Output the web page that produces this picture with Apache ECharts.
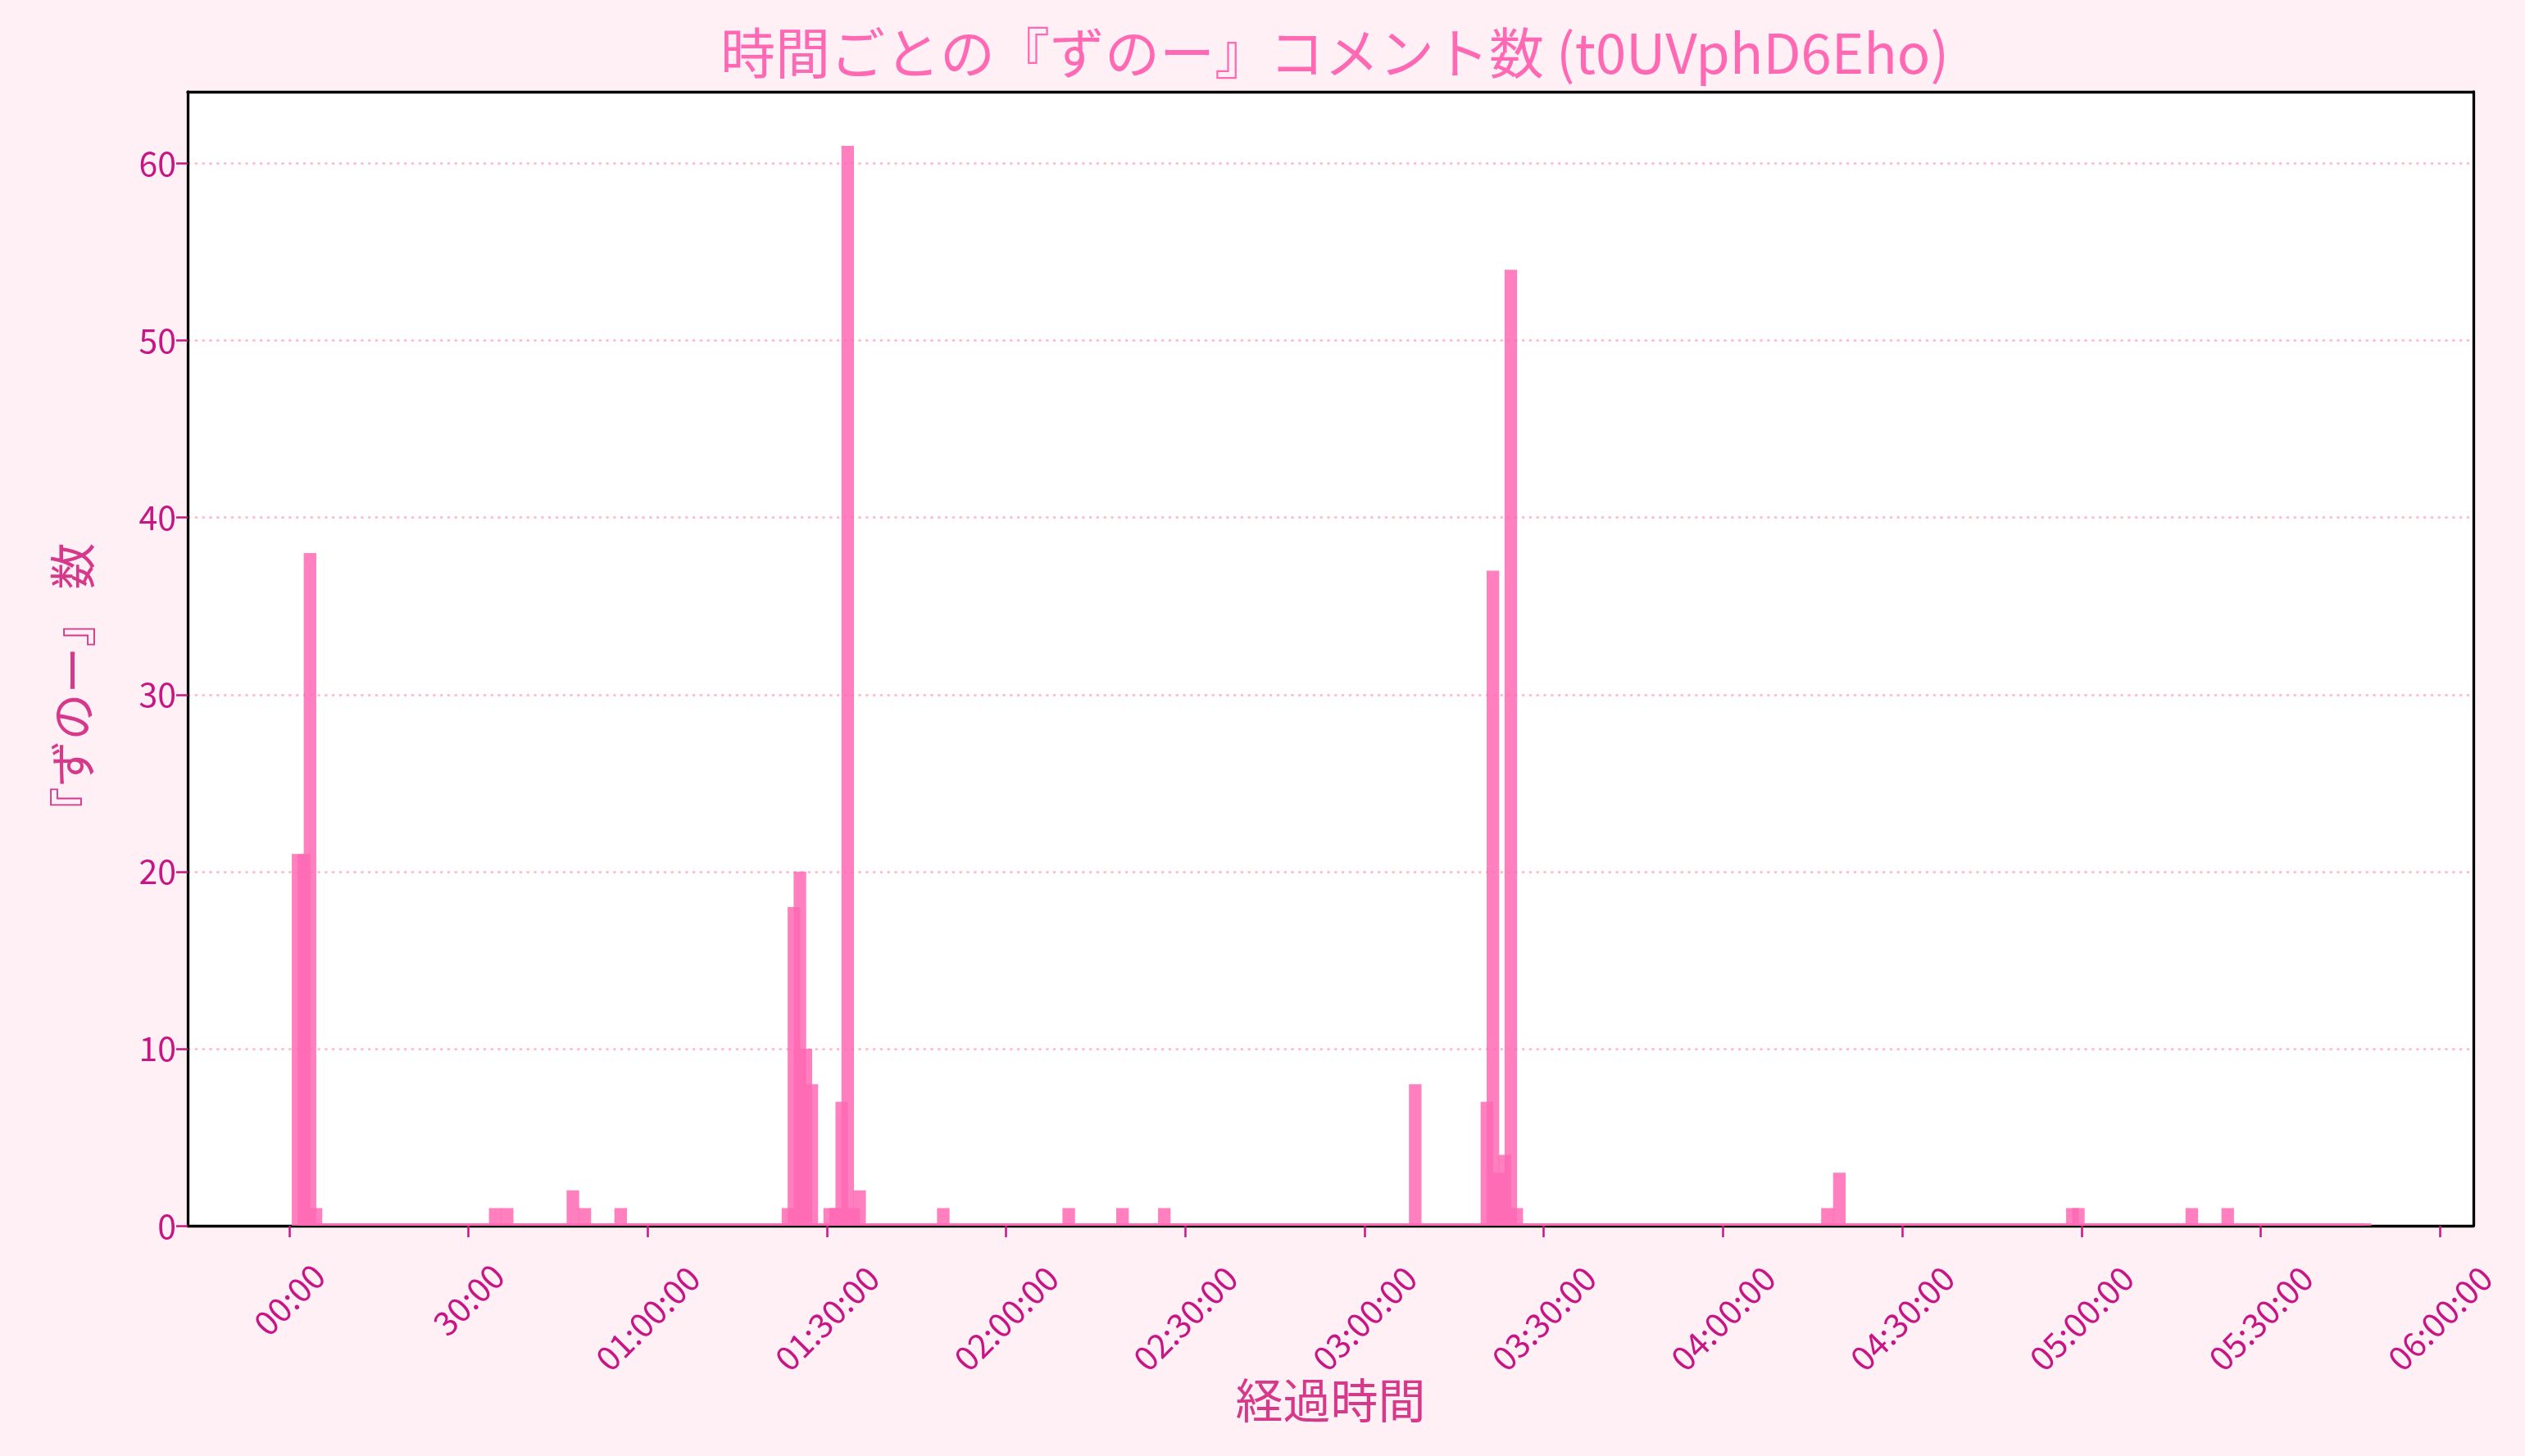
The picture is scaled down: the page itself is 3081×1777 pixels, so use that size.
<!DOCTYPE html>
<html>
<head>
<meta charset="utf-8">
<script src="https://cdn.jsdelivr.net/npm/echarts@6/dist/echarts.min.js"></script>
<style>
html,body{margin:0;padding:0;background:#FFF0F5;}
#chart{width:3081px;height:1777px;}
</style>
</head>
<body>
<div id="chart"></div>
<script>
// ---- data (minutes since stream start, 1-minute bins) ----
const binCount = 347;
const peakMinutes = [0, 1, 2, 3, 33, 35, 46, 48, 54, 82, 83, 84, 85, 86, 89, 90, 91, 92, 93, 94, 108, 129, 138, 145, 187, 199, 200, 201, 202, 203, 204, 256, 258, 297, 298, 317, 323];
const peakCounts  = [21, 21, 38, 1, 1, 1, 2, 1, 1, 1, 18, 20, 10, 8, 1, 1, 7, 61, 1, 2, 1, 1, 1, 1, 8, 7, 37, 3, 4, 54, 1, 1, 3, 1, 1, 1, 1];
const yTickValues = [0, 10, 20, 30, 40, 50, 60];
const xTickMinutes = [0, 30, 60, 90, 120, 150, 180, 210, 240, 270, 300, 330, 360];
const xTickLabels = ['00:00', '30:00', '01:00:00', '01:30:00', '02:00:00', '02:30:00', '03:00:00', '03:30:00', '04:00:00', '04:30:00', '05:00:00', '05:30:00', '06:00:00'];

const TITLE = '時間ごとの『ずのー』コメント数 (t0UVphD6Eho)';
const X_NAME = '経過時間';
const Y_NAME = '『ずのー』 数';

// ---- layout / style ----
const FONT = '"Noto Sans CJK JP", "Noto Sans", sans-serif';
const X_MIN = -17.0, X_MAX = 365.6, Y_MAX = 64.05;
const BIN_LEFT = 0.43;   // bins start slightly after the 0 tick
const BAR_SPAN = 2.1;    // bar drawn width in minutes
const GRID = {left: 229, right: 63, top: 112, bottom: 281};
const plotW = 3081 - GRID.left - GRID.right;
const plotCenterX = GRID.left + plotW / 2;
const barPx = plotW / (X_MAX - X_MIN) * BAR_SPAN;
const TITLE_SIZE = 67;

const countByMinute = {};
peakMinutes.forEach((m, k) => { countByMinute[m] = peakCounts[k]; });
const barData = [];
for (let i = 0; i < binCount; i++) {
  barData.push([i + BIN_LEFT + BAR_SPAN / 2, countByMinute[i] || 0]);
}

const labelMap = {};
xTickMinutes.forEach((m, k) => { labelMap[m] = xTickLabels[k]; });

// measure title to center it over the plot area (not the canvas)
const mctx = document.createElement('canvas').getContext('2d');
mctx.font = TITLE_SIZE + 'px ' + FONT;
const titleW = mctx.measureText(TITLE).width;

const TICK_COLOR = '#C71585';
const NAME_COLOR = '#D6388A';
const AXIS_TICK = {show: true, length: 14, lineStyle: {color: TICK_COLOR, width: 2.5}};

function xLabelAxis(values, margin) {
  return {
    type: 'value', min: X_MIN, max: X_MAX, position: 'bottom',
    axisLine: {show: false}, splitLine: {show: false},
    axisTick: {show: false},
    axisLabel: {
      customValues: values, rotate: 45, align: 'center', verticalAlign: 'middle',
      margin: margin, color: TICK_COLOR, fontSize: 41, fontFamily: FONT,
      formatter: v => labelMap[v] !== undefined ? labelMap[v] : ''
    }
  };
}

const option = {
  backgroundColor: '#FFF0F5',
  animation: false,
  title: {
    text: TITLE, left: Math.round(plotCenterX - titleW / 2), top: 26,
    textStyle: {color: '#FF69B4', fontSize: TITLE_SIZE, fontWeight: 'normal', fontFamily: FONT}
  },
  grid: Object.assign({containLabel: false, show: true, backgroundColor: '#FFFFFF', borderWidth: 0}, GRID),
  xAxis: [
    {
      type: 'value', min: X_MIN, max: X_MAX, position: 'bottom',
      axisLine: {show: true, onZero: false, lineStyle: {color: '#000', width: 3.3}},
      axisTick: Object.assign({customValues: xTickMinutes}, AXIS_TICK),
      axisLabel: {show: false},
      splitLine: {show: false},
      name: X_NAME, nameLocation: 'middle', nameGap: 184,
      nameTextStyle: {color: NAME_COLOR, fontSize: 58, fontFamily: FONT}
    },
    xLabelAxis([0, 30], 90),
    xLabelAxis([60, 90, 120, 150, 180, 210, 240, 270, 300, 330, 360], 113),
    {
      type: 'value', min: X_MIN, max: X_MAX, position: 'top',
      axisLine: {show: true, onZero: false, lineStyle: {color: '#000', width: 3.3}},
      axisTick: {show: false}, axisLabel: {show: false}, splitLine: {show: false}
    }
  ],
  yAxis: [
    {
      type: 'value', min: 0, max: Y_MAX, position: 'left',
      axisLine: {show: true, onZero: false, lineStyle: {color: '#000', width: 3.3}},
      axisTick: Object.assign({customValues: yTickValues}, AXIS_TICK),
      axisLabel: {customValues: yTickValues, color: TICK_COLOR, fontSize: 41, fontFamily: FONT, margin: 14},
      splitLine: {show: false},
      name: Y_NAME, nameLocation: 'middle', nameGap: 112, nameRotate: 90,
      nameTextStyle: {color: NAME_COLOR, fontSize: 57, fontFamily: FONT, padding: [0, 72, 0, 0]}
    },
    {
      type: 'value', min: 0, max: Y_MAX, position: 'right',
      axisLine: {show: true, onZero: false, lineStyle: {color: '#000', width: 3.3}},
      axisTick: {show: false}, axisLabel: {show: false}, splitLine: {show: false}
    },
    {
      type: 'value', min: 0, max: Y_MAX, position: 'left', interval: 10,
      axisLine: {show: false}, axisTick: {show: false}, axisLabel: {show: false},
      splitLine: {show: true, showMinLine: false, showMaxLine: false,
        lineStyle: {color: '#FFB6C1', width: 2.5, type: [3.3, 5.5]}}
    }
  ],
  series: [{
    type: 'bar',
    xAxisIndex: 0, yAxisIndex: 0,
    data: barData,
    barWidth: barPx,
    barMinHeight: 3,
    itemStyle: {color: 'rgba(255,105,180,0.85)'},
    z: 3
  }]
};

const chart = echarts.init(document.getElementById('chart'), null, {renderer: 'canvas'});
chart.setOption(option);
</script>
</body>
</html>
